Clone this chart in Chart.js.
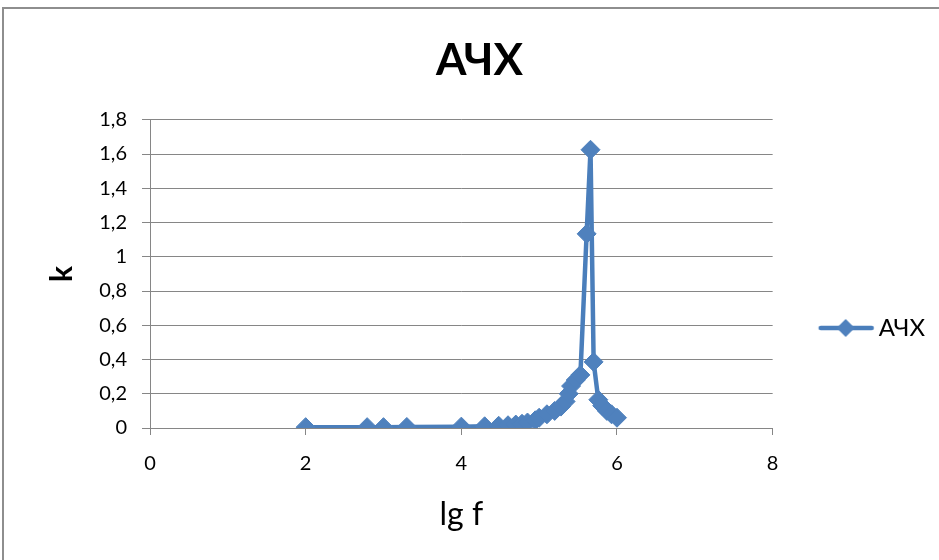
<!DOCTYPE html>
<html>
<head>
<meta charset="utf-8">
<script src="https://cdn.jsdelivr.net/npm/chart.js@4"></script>
<style>
  html, body { margin: 0; padding: 0; background: #ffffff; }
  #wrap { position: relative; width: 939px; height: 560px; overflow: hidden; background: #fff; }
  #frame { position: absolute; left: 2px; top: 7px; width: 1200px; height: 1200px; border: 2px solid #8e8e8e; box-sizing: border-box; }
  canvas { position: absolute; left: 0; top: 0; }
</style>
</head>
<body>
<div id="wrap">
  <div id="frame"></div>
  <canvas id="c" width="939" height="560"></canvas>
</div>
<script>
// ---- data ----
const seriesName = 'АЧХ';
const lgF = [2.0, 2.79, 3.0, 3.3, 4.0, 4.3, 4.48, 4.6, 4.7, 4.78, 4.85, 4.95, 5.0, 5.1, 5.2, 5.28, 5.34, 5.38, 5.41, 5.47, 5.53, 5.61, 5.66, 5.70, 5.76, 5.81, 5.87, 5.93, 6.0];
const kValues = [0.005, 0.005, 0.005, 0.006, 0.008, 0.01, 0.013, 0.016, 0.02, 0.025, 0.032, 0.045, 0.06, 0.08, 0.1, 0.125, 0.155, 0.2, 0.245, 0.28, 0.31, 1.134, 1.625, 0.386, 0.165, 0.13, 0.1, 0.08, 0.06];
const xTickLabels = ['0', '2', '4', '6', '8'];
const yTickLabels = ['0', '0,2', '0,4', '0,6', '0,8', '1', '1,2', '1,4', '1,6', '1,8'];
const chartTitle = 'АЧХ';
const xTitle = 'lg f';
const yTitle = 'k';

const points = lgF.map((x, i) => ({ x: x, y: kValues[i] }));

// legend sample: line with diamond marker (image spans the legend box plus 10px each side)
const SAMPLE_BOX = 79;
const sample = document.createElement('canvas');
sample.width = SAMPLE_BOX + 20; sample.height = 22;
(function () {
  const g = sample.getContext('2d');
  g.strokeStyle = '#4A7EBB';
  g.lineWidth = 4.5;
  g.lineCap = 'round';
  g.beginPath(); g.moveTo(43, 11); g.lineTo(94, 11); g.stroke();
  g.fillStyle = '#4F81BD';
  g.beginPath(); g.moveTo(68, 2); g.lineTo(77, 11); g.lineTo(68, 20); g.lineTo(59, 11); g.closePath(); g.fill();
})();

const FONT = "Lato, 'Noto Sans', 'Liberation Sans', sans-serif";

new Chart(document.getElementById('c'), {
  type: 'line',
  data: {
    datasets: [{
      label: seriesName,
      data: points,
      borderColor: '#4A7EBB',
      backgroundColor: '#4F81BD',
      borderWidth: 4.5,
      pointStyle: 'rectRot',
      pointRadius: 9.5,
      pointHoverRadius: 9.5,
      pointBackgroundColor: '#4F81BD',
      pointBorderColor: '#4F81BD',
      pointBorderWidth: 1,
      tension: 0,
      fill: false
    }]
  },
  options: {
    responsive: false,
    animation: false,
    events: [],
    layout: { padding: { left: 24, right: 4, top: 0, bottom: 0 } },
    plugins: {
      title: {
        display: true,
        text: chartTitle,
        color: '#000',
        font: { family: FONT, size: 44, weight: 'bold' },
        padding: { top: 34, bottom: 33 }
      },
      legend: {
        display: true,
        position: 'right',
        align: 'start',
        title: { display: true, text: ' ', font: { size: 10 }, padding: { top: 289, bottom: 0 } },
        labels: {
          color: '#000',
          font: { family: FONT, size: 24 },
          usePointStyle: true,
          pointStyleWidth: SAMPLE_BOX,
          padding: 15,
          generateLabels: (chart) => chart.data.datasets.map((ds, i) => ({
            text: ds.label,
            pointStyle: sample,
            fillStyle: ds.backgroundColor,
            strokeStyle: ds.borderColor,
            lineWidth: 0,
            fontColor: '#000',
            datasetIndex: i,
            hidden: false
          }))
        }
      },
      tooltip: { enabled: false }
    },
    scales: {
      x: {
        type: 'linear',
        min: 0, max: 8,
        afterFit: (s) => { s.height = 132; },
        ticks: {
          stepSize: 2,
          color: '#000',
          font: { family: FONT, size: 20 },
          padding: 17,
          maxRotation: 0,
          callback: (v) => xTickLabels[Math.round(v / 2)]
        },
        grid: { drawOnChartArea: false, drawTicks: true, tickLength: 7, color: '#868686', lineWidth: 1 },
        border: { display: true, color: '#868686', width: 1 },
        title: {
          display: true, text: xTitle, color: '#000',
          font: { family: FONT, size: 32 },
          padding: { top: 0, bottom: 26 }
        }
      },
      y: {
        type: 'linear',
        min: 0, max: 1.8,
        afterFit: (s) => { s.width = 126; },
        ticks: {
          stepSize: 0.2,
          color: '#000',
          font: { family: FONT, size: 20 },
          padding: 15,
          callback: (v) => yTickLabels[Math.round(v / 0.2)]
        },
        grid: { drawOnChartArea: true, drawTicks: true, tickLength: 8, color: '#868686', lineWidth: 1 },
        border: { display: true, color: '#868686', width: 1 },
        title: {
          display: true, text: yTitle, color: '#000',
          font: { family: FONT, size: 30, weight: 'bold' },
          padding: { top: 20, bottom: 0 }
        }
      }
    }
  }
});
</script>
</body>
</html>
